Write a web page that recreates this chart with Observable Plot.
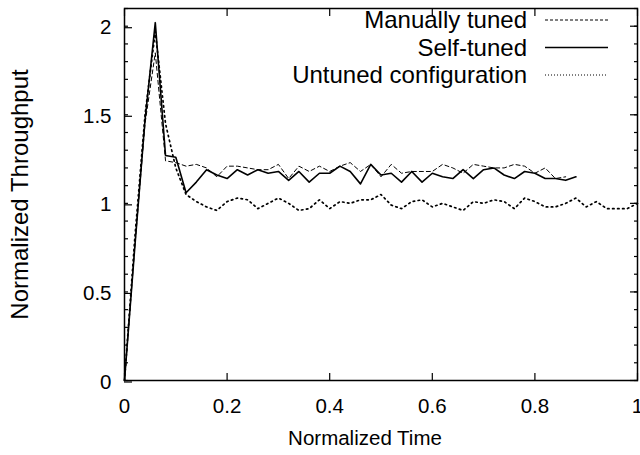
<!DOCTYPE html>
<html><head><meta charset="utf-8">
<script src="https://cdn.jsdelivr.net/npm/d3@7"></script>
<script src="https://cdn.jsdelivr.net/npm/@observablehq/plot@0.6"></script>
<style>body{margin:0;background:#fff} #chart{width:640px;height:455px;overflow:hidden}</style>
</head><body><div id="chart"></div><script>
const times = [0,0.02,0.04,0.06,0.08,0.1,0.12,0.14,0.16,0.18,0.2,0.22,0.24,0.26,0.28,0.3,0.32,0.34,0.36,0.38,0.4,0.42,0.44,0.46,0.48,0.5,0.52,0.54,0.56,0.58,0.6,0.62,0.64,0.66,0.68,0.7,0.72,0.74,0.76,0.78,0.8,0.82,0.84,0.86,0.88,0.9,0.92,0.94,0.96,0.98,1];
const selfTuned = [0,0.75,1.47,2.02,1.27,1.26,1.06,1.12,1.19,1.16,
  1.14,1.19,1.16,1.19,1.17,1.18,1.13,1.18,1.12,1.17,
  1.17,1.21,1.18,1.11,1.22,1.16,1.17,1.12,1.18,1.12,
  1.17,1.15,1.14,1.19,1.14,1.19,1.20,1.16,1.14,1.18,
  1.17,1.14,1.14,1.13,1.15];
const manuallyTuned = [0,0.75,1.45,1.85,1.24,1.23,1.21,1.22,1.20,1.15,
  1.21,1.21,1.20,1.19,1.19,1.22,1.14,1.21,1.18,1.21,
  1.18,1.21,1.23,1.18,1.22,1.15,1.22,1.17,1.18,1.18,
  1.18,1.22,1.20,1.17,1.22,1.21,1.20,1.20,1.22,1.21,
  1.17,1.20,1.14,1.15];
const untuned = [0,0.8,1.5,1.97,1.45,1.2,1.05,1.01,0.98,0.96,
  1.01,1.03,1.02,0.97,1.00,1.03,1.00,0.96,0.97,1.02,
  0.97,1.01,1.00,1.02,1.02,1.05,0.99,0.97,1.01,1.02,
  0.98,1.00,0.98,0.96,1.01,1.00,1.02,1.01,0.97,1.03,
  1.01,0.98,0.98,1.00,1.03,0.98,1.01,0.97,0.97,0.97,1.00];
const seriesNames = ["Manually tuned","Self-tuned","Untuned configuration"];
const xTicks = [0,0.2,0.4,0.6,0.8,1];
const yTicks = [0,0.5,1,1.5,2];
const yMinorTicks = [0,0.1,0.2,0.3,0.4,0.5,0.6,0.7,0.8,0.9,1,1.1,1.2,1.3,1.4,1.5,1.6,1.7,1.8,1.9,2,2.1];
const xLabel = "Normalized Time";
const yLabel = "Normalized Throughput";

const toRows = vals => vals.map((v,i)=>({t:times[i], v}));
const styles = [
  {stroke:"#000", strokeWidth:1, strokeDasharray:"4,3"},
  {stroke:"#000", strokeWidth:1.6},
  {stroke:"#000", strokeWidth:1.7, strokeDasharray:"1.5,3.5"}
];
const seriesVals = [manuallyTuned, selfTuned, untuned];
const fontFamily = "'Liberation Sans', Arial, Helvetica, sans-serif";
const blank = () => "";

const chart = Plot.plot({
  width:640, height:455, marginLeft:124, marginRight:3, marginTop:8, marginBottom:75,
  style:{fontFamily, fontSize:"20.5px", background:"#fff", color:"#000"},
  x:{domain:[0,1]},
  y:{domain:[0,2.1]},
  marks:[
    ...seriesVals.map((vals,i)=>Plot.line(toRows(vals),{x:"t",y:"v",...styles[i]})),
    Plot.frame({stroke:"#000", strokeWidth:1.5}),
    Plot.axisY({anchor:"left", ticks:yMinorTicks, tickSize:-4, tickFormat:blank, label:null, strokeWidth:1.2}),
    Plot.axisY({anchor:"right", ticks:yMinorTicks, tickSize:-4, tickFormat:blank, label:null, strokeWidth:1.2}),
    Plot.axisY({anchor:"left", ticks:yTicks, tickSize:-8, tickPadding:21, tickFormat:d=>String(d), label:null, strokeWidth:1.2, fontSize:20.5, dy:1.5}),
    Plot.axisY({anchor:"right", ticks:yTicks, tickSize:-8, tickFormat:blank, label:null, strokeWidth:1.2}),
    Plot.axisX({anchor:"bottom", ticks:xTicks, tickSize:-7, tickPadding:25, tickFormat:d=>String(d), label:null, strokeWidth:1.2, fontSize:20.5}),
    Plot.axisX({anchor:"top", ticks:xTicks, tickSize:-7, tickFormat:blank, label:null, strokeWidth:1.2}),
    Plot.text([xLabel],{frameAnchor:"bottom", dx:-16, dy:58, lineAnchor:"middle", textAnchor:"middle", fontSize:20.5, fill:"#000"}),
    Plot.text([yLabel],{frameAnchor:"left", dx:-104, rotate:-90, textAnchor:"middle", lineAnchor:"middle", fontSize:24, fill:"#000"})
  ]
});
document.getElementById("chart").appendChild(chart);

// legend (gnuplot-style key, top right inside the frame)
const svg = d3.select(chart);
const key = svg.append("g").attr("font-family", fontFamily).attr("font-size", 24);
seriesNames.forEach((name,i)=>{
  const yy = 20 + i*27.5;
  key.append("text").attr("x",527).attr("y",yy).attr("dy","0.35em").attr("text-anchor","end").attr("fill","#000").text(name);
  const ln = key.append("line").attr("x1",545).attr("x2",608).attr("y1",yy).attr("y2",yy)
    .attr("stroke",styles[i].stroke).attr("stroke-width", i===1?1.6:1);
  if (styles[i].strokeDasharray) ln.attr("stroke-dasharray", i===0?"3,2":"1,2");
});
</script></body></html>
